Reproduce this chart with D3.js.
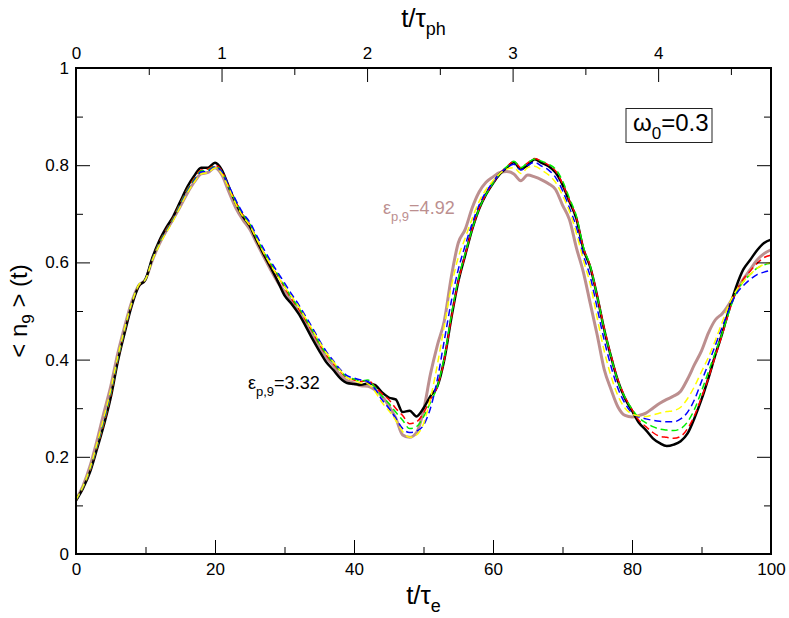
<!DOCTYPE html>
<html>
<head>
<meta charset="utf-8">
<script src="https://cdn.jsdelivr.net/npm/d3@7"></script>
<style>
  html, body { margin: 0; padding: 0; background: #fff; }
  svg { display: block; font-family: "Liberation Sans", Arial, Helvetica, sans-serif; }
</style>
</head>
<body>
<svg id="chart" width="789" height="618"></svg>
<script>
// ---------------- data ----------------
const tValues = d3.range(0, 101, 1); // t/tau_e sample points 0..100

const seriesBlack = [0.110,0.135,0.168,0.215,0.265,0.322,0.395,0.455,0.510,0.550,
 0.565,0.610,0.645,0.672,0.695,0.725,0.755,0.778,0.795,0.795,
 0.805,0.790,0.755,0.722,0.695,0.675,0.645,0.617,0.590,0.562,
 0.532,0.515,0.495,0.470,0.443,0.418,0.395,0.379,0.362,0.352,
 0.350,0.348,0.351,0.348,0.333,0.322,0.318,0.292,0.295,0.283,
 0.300,0.325,0.345,0.400,0.485,0.560,0.615,0.668,0.710,0.740,
 0.763,0.782,0.795,0.806,0.792,0.800,0.812,0.805,0.798,0.785,
 0.760,0.725,0.690,0.628,0.590,0.530,0.462,0.405,0.355,0.320,
 0.295,0.270,0.255,0.238,0.228,0.222,0.225,0.232,0.248,0.280,
 0.318,0.362,0.410,0.455,0.505,0.550,0.585,0.605,0.625,0.640,
 0.647];

const seriesRed = [0.110,0.136,0.170,0.218,0.268,0.326,0.398,0.458,0.512,0.551,
 0.565,0.608,0.642,0.668,0.692,0.722,0.750,0.773,0.790,0.792,
 0.800,0.788,0.755,0.724,0.698,0.678,0.648,0.620,0.595,0.573,
 0.548,0.525,0.505,0.482,0.458,0.432,0.410,0.392,0.375,0.362,
 0.358,0.355,0.357,0.345,0.330,0.318,0.300,0.285,0.268,0.272,
 0.290,0.318,0.345,0.400,0.485,0.560,0.615,0.668,0.710,0.740,
 0.763,0.783,0.797,0.808,0.795,0.805,0.814,0.808,0.800,0.788,
 0.762,0.727,0.692,0.630,0.592,0.532,0.465,0.408,0.358,0.323,
 0.297,0.275,0.262,0.250,0.242,0.240,0.238,0.242,0.258,0.285,
 0.322,0.362,0.408,0.452,0.500,0.540,0.565,0.582,0.598,0.610,
 0.615];

const seriesGreen = [0.111,0.137,0.172,0.220,0.272,0.330,0.400,0.460,0.514,0.552,
 0.565,0.607,0.640,0.666,0.690,0.720,0.748,0.770,0.788,0.790,
 0.798,0.786,0.755,0.725,0.699,0.680,0.650,0.622,0.598,0.576,
 0.552,0.528,0.508,0.485,0.460,0.434,0.412,0.394,0.377,0.364,
 0.360,0.356,0.358,0.343,0.325,0.310,0.292,0.275,0.258,0.262,
 0.282,0.312,0.345,0.405,0.490,0.565,0.618,0.668,0.710,0.740,
 0.763,0.783,0.797,0.808,0.795,0.805,0.813,0.808,0.802,0.792,
 0.768,0.732,0.695,0.632,0.592,0.530,0.462,0.405,0.355,0.322,
 0.298,0.280,0.270,0.262,0.257,0.255,0.254,0.258,0.272,0.298,
 0.335,0.375,0.415,0.455,0.500,0.538,0.560,0.575,0.588,0.595,
 0.598];

const seriesBlue = [0.112,0.138,0.174,0.223,0.276,0.334,0.404,0.462,0.515,0.553,
 0.565,0.606,0.638,0.664,0.688,0.718,0.746,0.768,0.786,0.788,
 0.797,0.786,0.757,0.728,0.702,0.683,0.655,0.628,0.603,0.580,
 0.558,0.535,0.514,0.490,0.466,0.440,0.417,0.398,0.380,0.367,
 0.362,0.358,0.355,0.340,0.318,0.300,0.280,0.258,0.250,0.253,
 0.265,0.300,0.360,0.440,0.520,0.585,0.635,0.680,0.718,0.745,
 0.765,0.783,0.795,0.802,0.790,0.800,0.806,0.798,0.790,0.775,
 0.748,0.712,0.672,0.615,0.570,0.505,0.440,0.385,0.340,0.310,
 0.290,0.282,0.278,0.275,0.273,0.272,0.272,0.278,0.292,0.318,
 0.355,0.392,0.430,0.468,0.505,0.535,0.552,0.565,0.575,0.580,
 0.584];

const seriesYellow = [0.112,0.139,0.176,0.226,0.280,0.338,0.406,0.464,0.516,0.553,
 0.565,0.605,0.636,0.662,0.686,0.715,0.743,0.765,0.782,0.785,
 0.794,0.782,0.752,0.720,0.695,0.676,0.648,0.620,0.595,0.572,
 0.550,0.530,0.510,0.486,0.462,0.437,0.414,0.396,0.378,0.363,
 0.357,0.352,0.350,0.335,0.312,0.295,0.275,0.252,0.240,0.245,
 0.268,0.320,0.390,0.470,0.550,0.610,0.650,0.690,0.725,0.750,
 0.768,0.783,0.792,0.795,0.783,0.795,0.798,0.790,0.780,0.765,
 0.738,0.705,0.660,0.605,0.555,0.485,0.418,0.365,0.325,0.300,
 0.288,0.284,0.283,0.286,0.290,0.293,0.295,0.302,0.320,0.345,
 0.375,0.405,0.440,0.478,0.515,0.542,0.560,0.575,0.588,0.596,
 0.600];

const seriesBrown = [0.112,0.140,0.180,0.232,0.290,0.345,0.412,0.468,0.518,0.552,
 0.565,0.605,0.638,0.665,0.690,0.715,0.742,0.765,0.782,0.785,
 0.795,0.780,0.745,0.712,0.688,0.668,0.640,0.612,0.585,0.560,
 0.540,0.520,0.500,0.478,0.452,0.428,0.405,0.388,0.368,0.357,
 0.352,0.346,0.345,0.338,0.325,0.305,0.280,0.245,0.240,0.250,
 0.295,0.370,0.430,0.480,0.570,0.640,0.668,0.712,0.745,0.765,
 0.776,0.785,0.787,0.782,0.768,0.780,0.776,0.770,0.762,0.750,
 0.718,0.688,0.630,0.580,0.515,0.450,0.380,0.338,0.302,0.285,
 0.282,0.285,0.290,0.300,0.310,0.318,0.325,0.335,0.360,0.390,
 0.418,0.455,0.482,0.495,0.515,0.540,0.565,0.585,0.605,0.618,
 0.626];

const yTicksMajor = [0, 0.2, 0.4, 0.6, 0.8, 1];
const yTicksMinor = [0.1, 0.3, 0.5, 0.7, 0.9];
const xTicksMajor = [0, 20, 40, 60, 80, 100];
const xTicksMinor = [10, 30, 50, 70, 90];
const topTicksMajor = [0, 1, 2, 3, 4];
const topTicksMinor = [0.5, 1.5, 2.5, 3.5, 4.5];
const tauPhOverTauE = 20.94; // tau_ph / tau_e  (2*pi/omega_0, omega_0 = 0.3)

// ---------------- layout ----------------
const svg = d3.select("#chart");
const L = 76, R = 771, T = 68, B = 554;
const x = d3.scaleLinear().domain([0, 100]).range([L, R]);
const y = d3.scaleLinear().domain([0, 1]).range([B, T]);
const xTop = d3.scaleLinear().domain([0, 100 / tauPhOverTauE]).range([L, R]);

const series = [
  { vals: seriesBrown,  color: "#bc8f8f", width: 3,   dash: null },
  { vals: seriesBlack,  color: "#000000", width: 2.5, dash: null },
  { vals: seriesRed,    color: "#ff0000", width: 1.5, dash: "7,4" },
  { vals: seriesGreen,  color: "#00ee00", width: 1.5, dash: "7,4" },
  { vals: seriesBlue,   color: "#0000ff", width: 1.5, dash: "7,4" },
  { vals: seriesYellow, color: "#ffff00", width: 1.5, dash: "7,4" }
];

const line = d3.line().x((d, i) => x(tValues[i])).y(d => y(d)).curve(d3.curveMonotoneX);

const plot = svg.append("g");
series.forEach(s => {
  plot.append("path")
    .attr("d", line(s.vals))
    .attr("fill", "none")
    .attr("stroke", s.color)
    .attr("stroke-width", s.width)
    .attr("stroke-linejoin", "round")
    .attr("stroke-dasharray", s.dash);
});

// ---------------- axes ----------------
const fs = 17;
function styleAxis(g) {
  g.select(".domain").remove();
  g.selectAll(".tick line").attr("stroke", "#000").attr("stroke-width", 1);
  g.selectAll(".tick text").attr("font-size", fs).attr("fill", "#000")
    .attr("font-family", "Liberation Sans, Arial, sans-serif");
}

svg.append("g").attr("transform", `translate(${L},0)`)
  .call(d3.axisLeft(y).tickValues(yTicksMajor).tickSize(-14).tickPadding(7).tickFormat(d3.format("")))
  .call(styleAxis);
svg.append("g").attr("transform", `translate(${L},0)`)
  .call(d3.axisLeft(y).tickValues(yTicksMinor).tickSize(-7).tickFormat(""))
  .call(styleAxis);
svg.append("g").attr("transform", `translate(${R},0)`)
  .call(d3.axisRight(y).tickValues(yTicksMajor).tickSize(-14).tickFormat(""))
  .call(styleAxis);
svg.append("g").attr("transform", `translate(${R},0)`)
  .call(d3.axisRight(y).tickValues(yTicksMinor).tickSize(-7).tickFormat(""))
  .call(styleAxis);
svg.append("g").attr("transform", `translate(0,${B})`)
  .call(d3.axisBottom(x).tickValues(xTicksMajor).tickSize(-14).tickPadding(9).tickFormat(d3.format("d")))
  .call(styleAxis);
svg.append("g").attr("transform", `translate(0,${B})`)
  .call(d3.axisBottom(x).tickValues(xTicksMinor).tickSize(-7).tickFormat(""))
  .call(styleAxis);
svg.append("g").attr("transform", `translate(0,${T})`)
  .call(d3.axisTop(xTop).tickValues(topTicksMajor).tickSize(-14).tickPadding(9).tickFormat(d3.format("d")))
  .call(styleAxis);
svg.append("g").attr("transform", `translate(0,${T})`)
  .call(d3.axisTop(xTop).tickValues(topTicksMinor).tickSize(-7).tickFormat(""))
  .call(styleAxis);

// frame
svg.append("rect").attr("x", L).attr("y", T).attr("width", R - L).attr("height", B - T)
  .attr("fill", "none").attr("stroke", "#000").attr("stroke-width", 2);

// ---------------- titles ----------------
const bt = svg.append("text").attr("x", (L + R) / 2).attr("y", 604)
  .attr("text-anchor", "middle").attr("font-size", 26).attr("fill", "#000");
bt.append("tspan").text("t/τ");
bt.append("tspan").attr("font-size", 18).attr("dy", 8).text("e");

const tt = svg.append("text").attr("x", (L + R) / 2).attr("y", 27)
  .attr("text-anchor", "middle").attr("font-size", 26).attr("fill", "#000");
tt.append("tspan").text("t/τ");
tt.append("tspan").attr("font-size", 18).attr("dy", 8).text("ph");

const yt = svg.append("text").attr("transform", `translate(27,${(T + B) / 2}) rotate(-90)`)
  .attr("text-anchor", "middle").attr("font-size", 24).attr("fill", "#000");
yt.append("tspan").text("< n");
yt.append("tspan").attr("font-size", 17).attr("dy", 7).text("9");
yt.append("tspan").attr("dy", -7).text(" > (t)");

// legend box
svg.append("rect").attr("x", 626).attr("y", 108.5).attr("width", 86).attr("height", 34)
  .attr("fill", "#fff").attr("stroke", "#222").attr("stroke-width", 1);
const lt = svg.append("text").attr("x", 633).attr("y", 131).attr("font-size", 24).attr("fill", "#000");
lt.append("tspan").text("ω");
lt.append("tspan").attr("font-size", 17).attr("dy", 8).text("0");
lt.append("tspan").attr("dy", -8).text("=0.3");

// annotations
function annot(xp, yp, color, value) {
  const t = svg.append("text").attr("x", xp).attr("y", yp).attr("font-size", 18).attr("fill", color);
  t.append("tspan").text("ε");
  t.append("tspan").attr("font-size", 13).attr("dy", 7).text("p,9");
  t.append("tspan").attr("dy", -7).text("=" + value);
}
annot(248, 389, "#000", "3.32");
annot(383, 214, "#bc8f8f", "4.92");
</script>
</body>
</html>
